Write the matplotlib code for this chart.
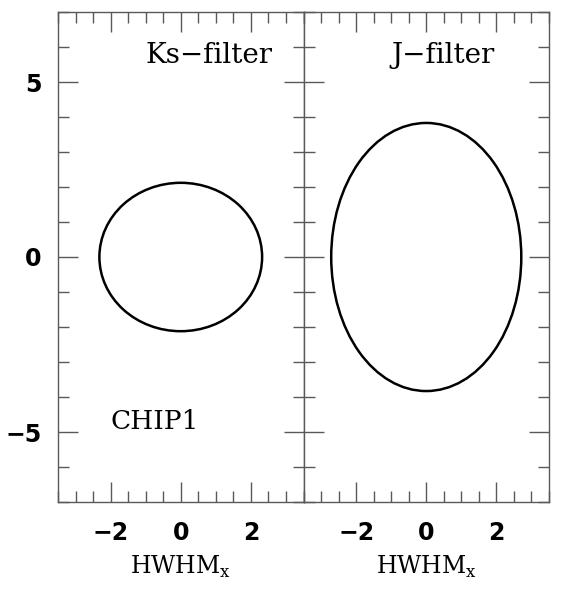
import matplotlib
matplotlib.use("Agg")
import matplotlib.pyplot as plt
from matplotlib.patches import Ellipse
from matplotlib.ticker import MultipleLocator

# PSF half widths at half maximum per filter (CHIP1)
filters = ["Ks\u2212filter", "J\u2212filter"]
hwhm_x = [2.32, 2.71]
hwhm_y = [2.12, 3.83]
chip_name = "CHIP1"

fig = plt.figure(figsize=(5.61, 6.0), dpi=100)
left, right, bottom, top = 58 / 561, 549 / 561, 1 - 502 / 600, 1 - 12 / 600
w = (right - left) / 2

axes = []
for i in range(2):
    ax = fig.add_axes([left + i * w, bottom, w, top - bottom])
    axes.append(ax)
    ax.add_patch(Ellipse((0, 0), 2 * hwhm_x[i], 2 * hwhm_y[i],
                         fill=False, edgecolor="black", lw=1.8))
    ax.set_xlim(-3.5, 3.5)
    ax.set_ylim(-7, 7)
    ax.xaxis.set_major_locator(MultipleLocator(2))
    ax.xaxis.set_minor_locator(MultipleLocator(0.5))
    ax.yaxis.set_major_locator(MultipleLocator(5))
    ax.yaxis.set_minor_locator(MultipleLocator(1))
    ax.tick_params(which="both", direction="in", top=True, right=True,
                   color="0.35", width=1.0, labelsize=17)
    ax.tick_params(axis="x", pad=14)
    ax.tick_params(axis="y", pad=12)
    ax.tick_params(which="major", length=14.5)
    ax.tick_params(which="minor", length=8)
    for lab in ax.get_xticklabels() + ax.get_yticklabels():
        lab.set_fontweight("bold")
    for s in ax.spines.values():
        s.set_color("0.35")
        s.set_linewidth(1.0)
    ax.set_xlabel(r"HWHM$_\mathregular{x}$", family="DejaVu Serif", fontsize=17,
                  labelpad=6)
    ax.text(-1.0, 5.75, filters[i], family="DejaVu Serif", fontsize=20,
            ha="left", va="center")
    if i == 1:
        ax.tick_params(labelleft=False)

axes[0].text(-2.0, -4.7, chip_name, family="DejaVu Serif", fontsize=19,
             ha="left", va="center")

fig.savefig("out.png", dpi=100)
